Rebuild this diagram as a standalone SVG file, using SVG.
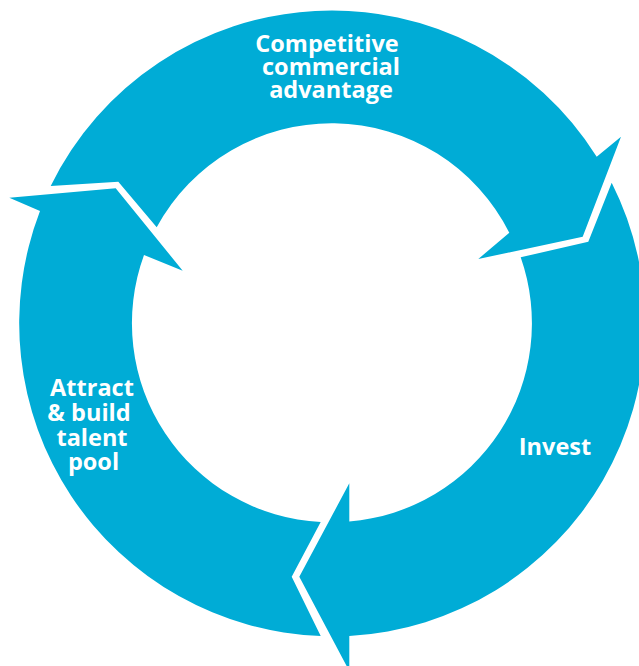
<svg xmlns="http://www.w3.org/2000/svg" width="639" height="666" viewBox="0 0 639 666">
  <style>
    .seg { fill: #00acd6; stroke: none; }
    .lbl { fill: #ffffff; font-family: "Open Sans", Lato, "Liberation Sans", sans-serif; font-weight: 700; font-size: 23.5px; text-anchor: middle; }
  </style>
  <rect width="639" height="666" fill="#ffffff"/>
  <!-- ring centre (332,323.3), inner radius 199, outer radius 313; three clockwise arrows -->
  <g id="connectors">
    <!-- left arrow: bottom notch up to the top-left head -->
    <g id="attract">
      <path class="seg" d="M320.7,636 L291.7,576.7 L320.7,522 A199,199 0 0 1 144,255 L182.7,270.7 L115.7,188.3 L9.3,197.7 L40,211 A313,313 0 0 0 320.7,636 Z"/>
      <text class="lbl" x="92" y="396">Attract</text>
      <text class="lbl" x="89" y="421">&amp; build</text>
      <text class="lbl" x="92" y="446">talent</text>
      <text class="lbl" x="93.5" y="470">pool</text>
    </g>
    <!-- top arrow: top-left notch round to the top-right head -->
    <g id="advantage">
      <path class="seg" d="M50.7,186 L118.3,181.7 L156.7,227.3 A199,199 0 0 1 509.3,232.7 L478.3,259 L582.7,236.7 L621,136.7 L596.7,156.7 A313,313 0 0 0 50.7,186 Z"/>
      <text class="lbl" x="327" y="52">Competitive</text>
      <text class="lbl" x="331" y="75">commercial</text>
      <text class="lbl" x="331" y="98">advantage</text>
    </g>
    <!-- right arrow: top-right notch down to the bottom head -->
    <g id="invest">
      <path class="seg" d="M611.7,182.7 L588.3,241.7 L520.7,257.3 A199,199 0 0 1 349.3,521.5 L349.3,483.3 L299.3,576.7 L349.3,671 L349.3,635.9 A313,313 0 0 0 611.7,182.7 Z"/>
      <text class="lbl" x="555" y="455">Invest</text>
    </g>
  </g>
</svg>
